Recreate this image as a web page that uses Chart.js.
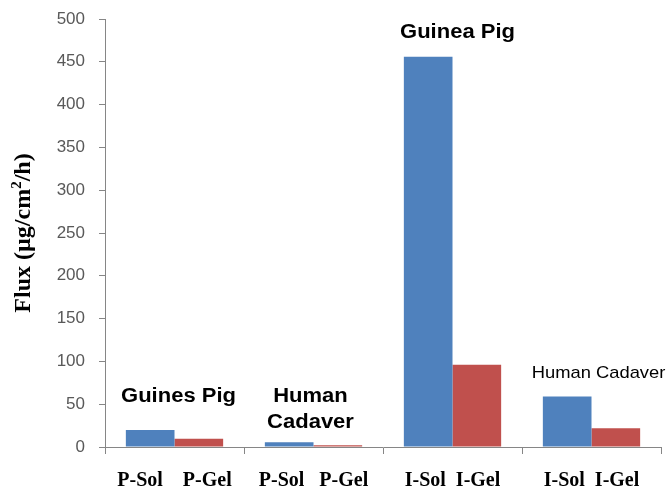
<!DOCTYPE html>
<html>
<head>
<meta charset="utf-8">
<script src="https://cdn.jsdelivr.net/npm/chart.js@4.4.1/dist/chart.umd.min.js"></script>
<style>
  html, body { margin: 0; padding: 0; background: #fff; }
  #chart { display: block; }
</style>
</head>
<body>
<canvas id="chart" width="668" height="487"></canvas>
<script>
// data
const groups = ["Guinea Pig (P)", "Human Cadaver (P)", "Guinea Pig (I)", "Human Cadaver (I)"]
const xTickLabels = ["P-Sol    P-Gel", "P-Sol   P-Gel", "I-Sol  I-Gel", "I-Sol  I-Gel"]
const solFlux = [20, 5.5, 456, 59]
const gelFlux = [9.5, 2, 96, 22]
const yMin = 0
const yMax = 500
const yStep = 50

// group captions drawn over the bars
const captions = [
  { lines: ["Guines Pig"], group: 0, value: 52, dx: 4, bold: true },
  { lines: ["Human", "Cadaver"], group: 1, value: 53, dx: -3, bold: true },
  { lines: ["Guinea Pig"], group: 2, value: 478, dx: 5, bold: true },
  { lines: ["Human Cadaver"], group: 3, value: 81, dx: 7, bold: false },
]

const axisColor = "#868686"

const captionPlugin = {
  id: "captions",
  afterDatasetsDraw(chart) {
    const ctx = chart.ctx
    const x = chart.scales.x
    const y = chart.scales.y
    ctx.save()
    ctx.fillStyle = "#000"
    ctx.textAlign = "center"
    ctx.textBaseline = "alphabetic"
    captions.forEach((c) => {
      const cx = x.getPixelForValue(c.group) + c.dx
      const cy = y.getPixelForValue(c.value)
      ctx.save()
      ctx.translate(cx, cy)
      if (c.bold) {
        ctx.font = "bold 20px 'Liberation Sans', Arial, sans-serif"
        ctx.scale(1.1, 1)
      } else {
        ctx.font = "17px 'Liberation Sans', Arial, sans-serif"
        ctx.scale(1.08, 1)
      }
      c.lines.forEach((line, i) => ctx.fillText(line, 0, i * 26))
      ctx.restore()
    })

    // y axis title with superscript
    const mid = (chart.chartArea.top + chart.chartArea.bottom) / 2
    ctx.save()
    ctx.translate(24, mid)
    ctx.rotate(-Math.PI / 2)
    ctx.textBaseline = "middle"
    ctx.textAlign = "left"
    const big = "bold 24px 'Liberation Serif', 'Times New Roman', serif"
    const small = "bold 15px 'Liberation Serif', 'Times New Roman', serif"
    const parts = [
      { t: "Flux (µg/cm", f: big, dy: 0 },
      { t: "2", f: small, dy: -7 },
      { t: "/h)", f: big, dy: 0 },
    ]
    let total = 0
    parts.forEach((p) => { ctx.font = p.f; total += ctx.measureText(p.t).width })
    let px = -total / 2
    parts.forEach((p) => {
      ctx.font = p.f
      ctx.fillText(p.t, px, p.dy)
      px += ctx.measureText(p.t).width
    })
    ctx.restore()
    ctx.restore()
  },
}

new Chart(document.getElementById("chart"), {
  type: "bar",
  data: {
    labels: xTickLabels,
    datasets: [
      { label: "Sol", data: solFlux, backgroundColor: "#4F81BD", borderWidth: 0 },
      { label: "Gel", data: gelFlux, backgroundColor: "#C0504D", borderWidth: 0 },
    ],
  },
  options: {
    responsive: false,
    devicePixelRatio: 1,
    animation: false,
    layout: { padding: { top: 19, right: 7, left: 0, bottom: 0 } },
    datasets: { bar: { categoryPercentage: 0.7, barPercentage: 1 } },
    plugins: {
      legend: { display: false },
      tooltip: { enabled: false },
    },
    scales: {
      x: {
        offset: true,
        grid: { offset: true, drawOnChartArea: false, tickLength: 7, color: axisColor },
        border: { color: axisColor },
        ticks: {
          padding: 15,
          color: "#000",
          font: { family: "'Liberation Serif', 'Times New Roman', serif", size: 20, weight: "bold" },
        },
        afterFit: (scale) => {
          scale.height = 40
          scale.paddingLeft = 0
          scale.paddingRight = 0
        },
      },
      y: {
        min: yMin,
        max: yMax,
        ticks: {
          stepSize: yStep,
          padding: 14,
          color: "#595959",
          font: { family: "'Liberation Sans', Arial, sans-serif", size: 17 },
        },
        grid: { drawOnChartArea: false, tickLength: 6, color: axisColor },
        border: { color: axisColor },
        afterFit: (scale) => {
          scale.width = 105
          scale.paddingTop = 0
          scale.paddingBottom = 0
        },
      },
    },
  },
  plugins: [captionPlugin],
})
</script>
</body>
</html>
